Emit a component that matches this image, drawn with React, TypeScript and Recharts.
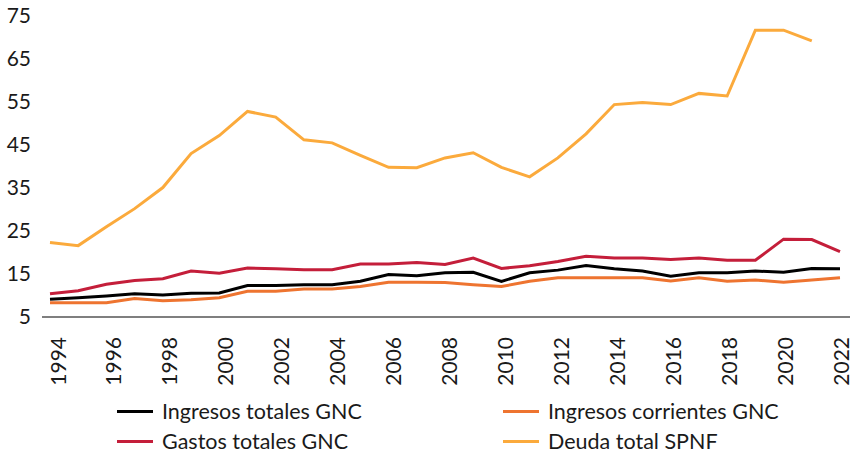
import React from 'react';
import { LineChart, Line, XAxis, YAxis, Legend } from 'recharts';

const years = [
  '1994', '1995', '1996', '1997', '1998', '1999', '2000', '2001', '2002', '2003',
  '2004', '2005', '2006', '2007', '2008', '2009', '2010', '2011', '2012', '2013',
  '2014', '2015', '2016', '2017', '2018', '2019', '2020', '2021', '2022',
];

const ingresosTotales = [
  9.1, 9.5, 9.9, 10.4, 10.1, 10.5, 10.6, 12.3, 12.3, 12.5,
  12.5, 13.3, 14.9, 14.6, 15.3, 15.4, 13.3, 15.3, 15.9, 17.0,
  16.2, 15.7, 14.5, 15.3, 15.3, 15.7, 15.4, 16.3, 16.2,
];

const ingresosCorrientes = [
  8.3, 8.3, 8.3, 9.3, 8.8, 9.0, 9.5, 11.0, 11.0, 11.5,
  11.5, 12.1, 13.1, 13.1, 13.0, 12.5, 12.1, 13.3, 14.1, 14.1,
  14.1, 14.1, 13.4, 14.1, 13.3, 13.6, 13.1, 13.6, 14.1,
];

const gastosTotales = [
  10.4, 11.1, 12.6, 13.5, 13.9, 15.7, 15.2, 16.4, 16.2, 16.0,
  16.0, 17.3, 17.3, 17.7, 17.2, 18.7, 16.3, 16.9, 17.9, 19.1,
  18.7, 18.7, 18.4, 18.7, 18.2, 18.2, 23.1, 23.0, 20.2,
];

const deudaTotal: (number | null)[] = [
  22.3, 21.6, 26.0, 30.2, 35.1, 43.0, 47.2, 52.8, 51.5, 46.2,
  45.5, 42.6, 39.8, 39.7, 42.0, 43.2, 39.8, 37.6, 42.0, 47.6,
  54.4, 54.9, 54.4, 57.0, 56.4, 71.7, 71.7, 69.2, null,
];

const yTicks = [5, 15, 25, 35, 45, 55, 65, 75];

const series = [
  { key: 'ingresosTotales', name: 'Ingresos totales GNC', color: '#000000' },
  { key: 'ingresosCorrientes', name: 'Ingresos corrientes GNC', color: '#ee7430' },
  { key: 'gastosTotales', name: 'Gastos totales GNC', color: '#c41e3a' },
  { key: 'deudaTotal', name: 'Deuda total SPNF', color: '#fbaa3c' },
];

const data = years.map((year, i) => ({
  year,
  ingresosTotales: ingresosTotales[i],
  ingresosCorrientes: ingresosCorrientes[i],
  gastosTotales: gastosTotales[i],
  deudaTotal: deudaTotal[i],
}));

const FONT = 'Lato, "Noto Sans", sans-serif';

// year labels sit a little to the right of the first point and centred on the last one
function YearTick(props: any) {
  const { x, y, payload } = props;
  const first = 50;
  const last = 840;
  const cx = x + 7 * (1 - (x - first) / (last - first));
  return (
    <g transform={`translate(${cx},${y})`}>
      <text
        transform="rotate(-90)"
        textAnchor="end"
        dominantBaseline="central"
        fontSize={21}
        fontFamily={FONT}
        fill="#1a1a1a"
      >
        {payload.value}
      </text>
    </g>
  );
}

function LegendBox() {
  const cols = [117, 503];
  const rows = [411, 441];
  return (
    <div style={{ position: 'relative', width: 851, height: 70, fontFamily: FONT, fontSize: 21.5, color: '#1a1a1a' }}>
      {series.map((s, i) => {
        const left = cols[i % 2];
        const top = rows[Math.floor(i / 2)] - 395 - 13;
        return (
          <div key={s.key} style={{ position: 'absolute', left, top, height: 26, display: 'flex', alignItems: 'center', whiteSpace: 'nowrap' }}>
            <span style={{ display: 'inline-block', width: 36, height: 3, background: s.color, marginRight: 9 }} />
            <span>{s.name}</span>
          </div>
        );
      })}
    </div>
  );
}

export default function App() {
  return (
    <div style={{ position: 'absolute', left: 0, top: 0, width: 851, height: 455, background: '#fff' }}>
      <LineChart
        width={851}
        height={455}
        data={data}
        margin={{ top: 16, right: 1, left: 0, bottom: 78 }}
      >
        <XAxis
          dataKey="year"
          interval={1}
          height={60}
          tickLine={false}
          tickSize={0}
          tickMargin={20}
          axisLine={{ stroke: '#000', strokeWidth: 1.2 }}
          padding={{ left: 8, right: 10 }}
          tick={<YearTick />}
        />
        <YAxis
          domain={[5, 75]}
          ticks={yTicks}
          width={42}
          axisLine={false}
          tickLine={false}
          tickSize={0}
          tickMargin={11}
          tick={{ fontSize: 21, fontFamily: FONT, fill: '#1a1a1a' }}
        />
        <Legend
          layout="horizontal"
          verticalAlign="middle"
          align="center"
          wrapperStyle={{ top: 395, left: 0, width: 851 }}
          content={() => <LegendBox />}
        />
        {series.map(s => (
          <Line
            key={s.key}
            type="linear"
            dataKey={s.key}
            name={s.name}
            stroke={s.color}
            strokeWidth={3}
            dot={false}
            activeDot={false}
            isAnimationActive={false}
          />
        ))}
      </LineChart>
    </div>
  );
}
